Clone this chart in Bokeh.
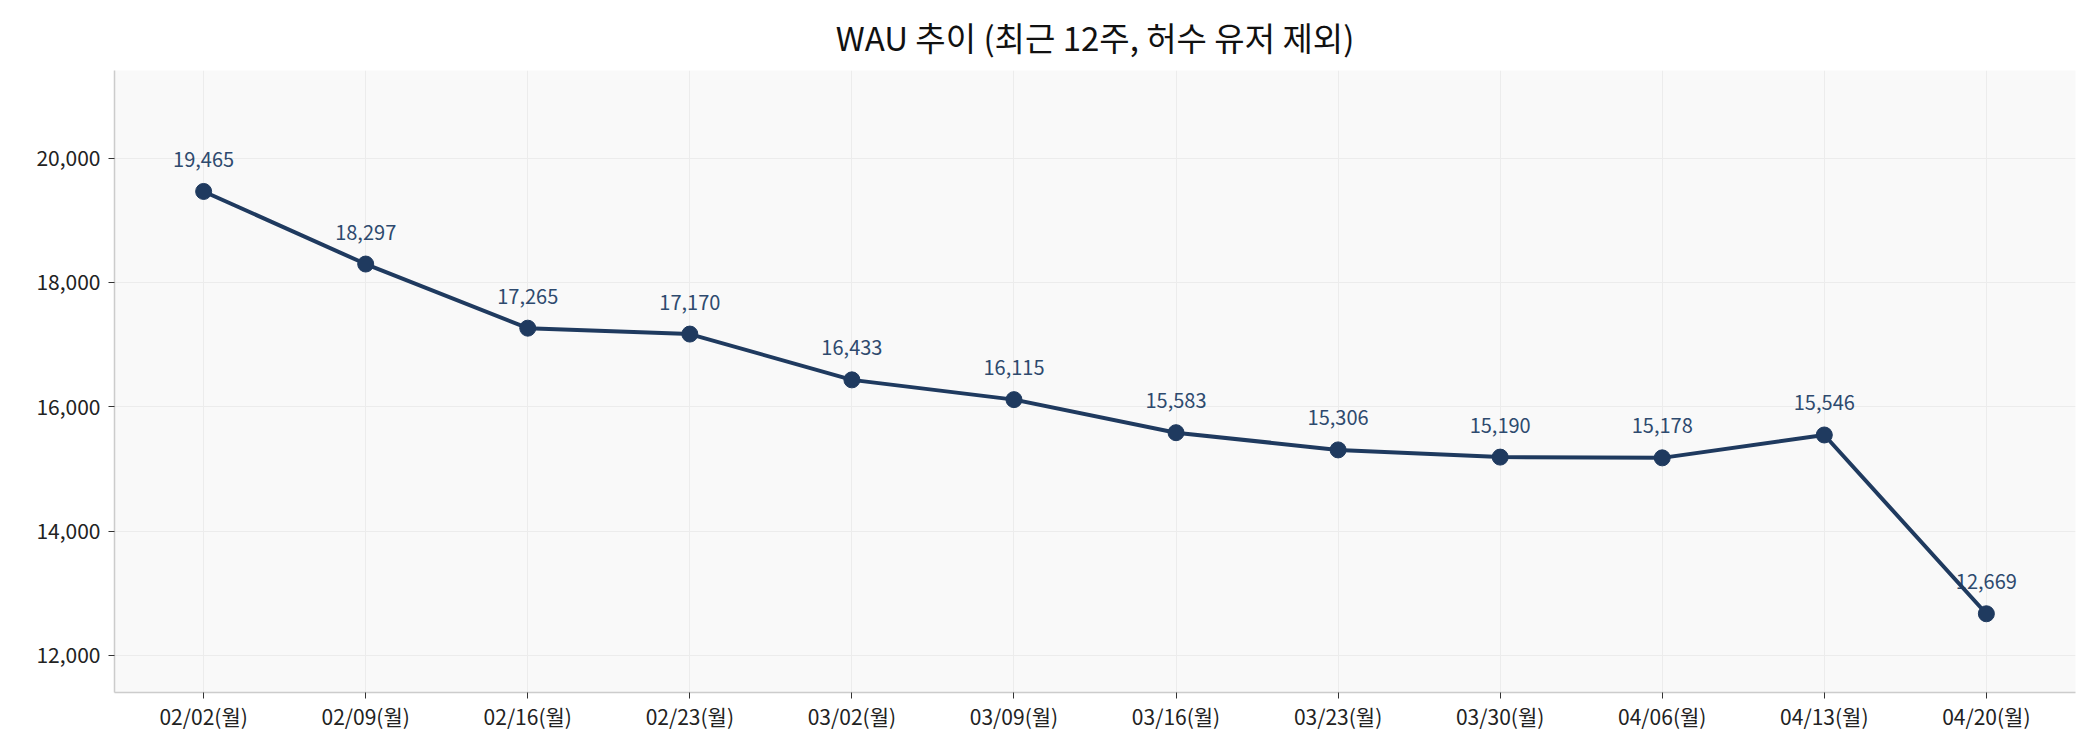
from bokeh.plotting import figure
from bokeh.models import ColumnDataSource, FixedTicker, NumeralTickFormatter, Range1d
from bokeh.core.properties import value
from bokeh.embed import file_html
from bokeh.resources import INLINE

weeks = ["02/02(월)", "02/09(월)", "02/16(월)", "02/23(월)", "03/02(월)", "03/09(월)",
         "03/16(월)", "03/23(월)", "03/30(월)", "04/06(월)", "04/13(월)", "04/20(월)"]
wau = [19465, 18297, 17265, 17170, 16433, 16115, 15583, 15306, 15190, 15178, 15546, 12669]
y_ticks = [12000, 14000, 16000, 18000, 20000]

FONT = "Noto Sans CJK KR"
NAVY = "#1f3a5f"

xs = list(range(len(weeks)))
src = ColumnDataSource(dict(x=xs, y=wau, lab=[f"{v:,}" for v in wau]))

p = figure(width=2092, height=742, output_backend="svg", toolbar_location=None,
           x_range=Range1d(-0.55, len(weeks) - 1 + 0.55),
           y_range=Range1d(min(wau) * 0.9, max(wau) * 1.1),
           min_border_left=114, min_border_right=17, min_border_top=70, min_border_bottom=50)

p.title.text = "WAU 추이 (최근 12주, 허수 유저 제외)"
p.title.align = "center"
p.title.text_font = FONT
p.title.text_font_size = "33px"
p.title.text_font_style = "normal"
p.title.text_color = "#111111"
p.title.standoff = 19

p.background_fill_color = "#f9f9f9"
p.border_fill_color = "white"
p.outline_line_color = None

p.text(x="x", y="y", text="lab", source=src, text_font=value(FONT), text_font_size="20px",
       text_color="#2e4a6e", text_align="center", text_baseline="middle", y_offset=-32)
p.line(x="x", y="y", source=src, line_color=NAVY, line_width=4)
p.scatter(x="x", y="y", source=src, size=16, fill_color=NAVY, line_color=NAVY)

p.xaxis.ticker = FixedTicker(ticks=xs)
p.xaxis.major_label_overrides = {i: w for i, w in enumerate(weeks)}
p.yaxis.ticker = FixedTicker(ticks=y_ticks)
p.yaxis.formatter = NumeralTickFormatter(format="0,0")

for ax in (p.xaxis, p.yaxis):
    ax.axis_line_color = "#cccccc"
    ax.axis_line_width = 1.5
    ax.major_tick_line_color = "#333333"
    ax.major_tick_out = 6
    ax.major_tick_in = 0
    ax.minor_tick_line_color = None
    ax.major_label_text_font = FONT
    ax.major_label_text_font_size = "21px"
    ax.major_label_text_color = "#222222"
    ax.major_label_standoff = 8
p.xaxis.major_label_standoff = 2

p.xgrid.grid_line_color = "#ececec"
p.ygrid.grid_line_color = "#ececec"
p.xgrid.ticker = FixedTicker(ticks=xs)
p.ygrid.ticker = FixedTicker(ticks=y_ticks)

open("out.html", "w").write(file_html(p, INLINE))
